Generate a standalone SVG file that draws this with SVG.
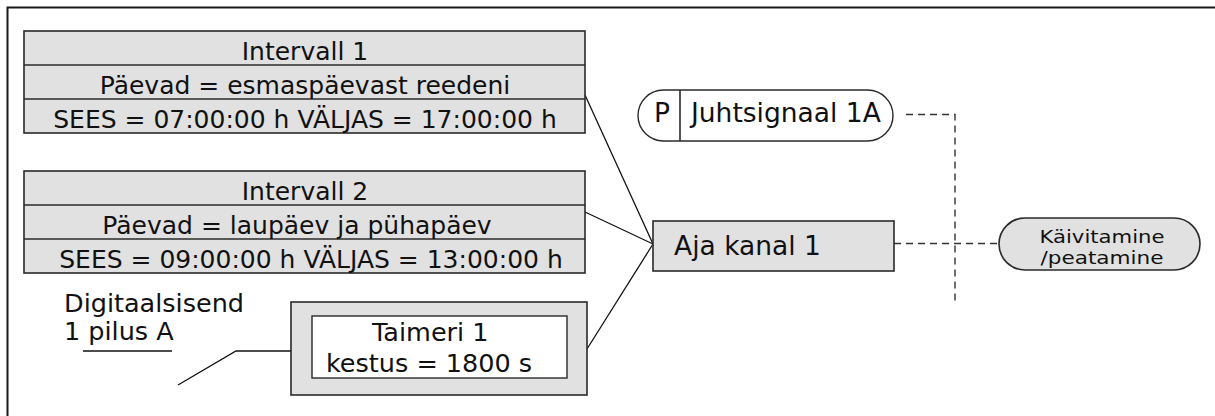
<svg xmlns="http://www.w3.org/2000/svg" width="1215" height="416" viewBox="0 0 1215 416">
  <style>
    .box { fill: #e1e1e1; stroke: #2a2a2a; stroke-width: 1.6; }
    .white { fill: #ffffff; stroke: #2a2a2a; stroke-width: 1.4; }
    .div { stroke: #2a2a2a; stroke-width: 1.6; fill: none; }
    .t { font-family: "DejaVu Sans", Verdana, sans-serif; fill: #111111; }
    .row { font-size: 25px; text-anchor: middle; }
    .big { font-size: 26.5px; }
    .mid { font-size: 25.5px; }
    .small { font-size: 17.8px; text-anchor: middle; }
    .line { stroke: #111111; stroke-width: 1.3; fill: none; }
    .dash { stroke: #333333; stroke-width: 1.4; fill: none; stroke-dasharray: 7 5; }
  </style>
  <rect width="1215" height="416" fill="#ffffff"/>
  <g id="frame">
    <path d="M7.5,420 L7.5,7.5 L1220,7.5" fill="none" stroke="#1a1a1a" stroke-width="2"/>
  </g>
  <g id="connectors">
    <line class="line" x1="585" y1="95" x2="653" y2="244"/>
    <line class="line" x1="585" y1="212" x2="653" y2="244"/>
    <line class="line" x1="587" y1="349" x2="653" y2="244"/>
    <polyline class="line" points="178,385 236,351 291,351"/>
    <line class="line" x1="83" y1="351" x2="172" y2="351"/>
    <polyline class="dash" points="906,114.5 955,114.5 955,302"/>
    <line class="dash" x1="894" y1="243.5" x2="999" y2="243.5"/>
  </g>
  <g id="intervall1">
    <rect class="box" x="24" y="31" width="561" height="102"/>
    <line class="div" x1="24" y1="65" x2="585" y2="65"/>
    <line class="div" x1="24" y1="99" x2="585" y2="99"/>
    <text class="t row" x="305" y="60">Intervall 1</text>
    <text class="t row" x="305" y="94">Päevad = esmaspäevast reedeni</text>
    <text class="t row" x="305" y="128">SEES = 07:00:00 h VÄLJAS = 17:00:00 h</text>
  </g>
  <g id="intervall2">
    <rect class="box" x="24" y="171" width="561" height="102"/>
    <line class="div" x1="24" y1="205" x2="585" y2="205"/>
    <line class="div" x1="24" y1="239" x2="585" y2="239"/>
    <text class="t row" x="305" y="200">Intervall 2</text>
    <text class="t row" x="297" y="234">Päevad = laupäev ja pühapäev</text>
    <text class="t row" x="311" y="268">SEES = 09:00:00 h VÄLJAS = 13:00:00 h</text>
  </g>
  <g id="digitaalsisend">
    <text class="t mid" x="64" y="312">Digitaalsisend</text>
    <text class="t mid" x="64" y="340">1 pilus A</text>
  </g>
  <g id="taimeri1">
    <rect class="box" x="291" y="302" width="296" height="93"/>
    <rect class="white" x="312" y="316" width="255" height="62"/>
    <text class="t mid" x="372" y="341">Taimeri 1</text>
    <text class="t mid" x="326" y="372">kestus = 1800 s</text>
  </g>
  <g id="aja-kanal-1">
    <rect class="box" x="653" y="221" width="241" height="50"/>
    <text class="t big" x="674" y="255">Aja kanal 1</text>
  </g>
  <g id="juhtsignaal-1a">
    <rect class="white" x="638" y="90" width="255" height="51" rx="25.5" ry="25.5"/>
    <line class="div" x1="680" y1="90" x2="680" y2="141" stroke-width="1.3"/>
    <text class="t big" x="662" y="122" text-anchor="middle">P</text>
    <text class="t big" x="691" y="122">Juhtsignaal 1A</text>
  </g>
  <g id="kaivitamine">
    <rect class="box" x="999" y="218" width="201" height="52" rx="26" ry="26"/>
    <text class="t small" x="1102" y="243" textLength="125" lengthAdjust="spacingAndGlyphs">Käivitamine</text>
    <text class="t small" x="1102" y="264" textLength="123" lengthAdjust="spacingAndGlyphs">/peatamine</text>
  </g>
</svg>
